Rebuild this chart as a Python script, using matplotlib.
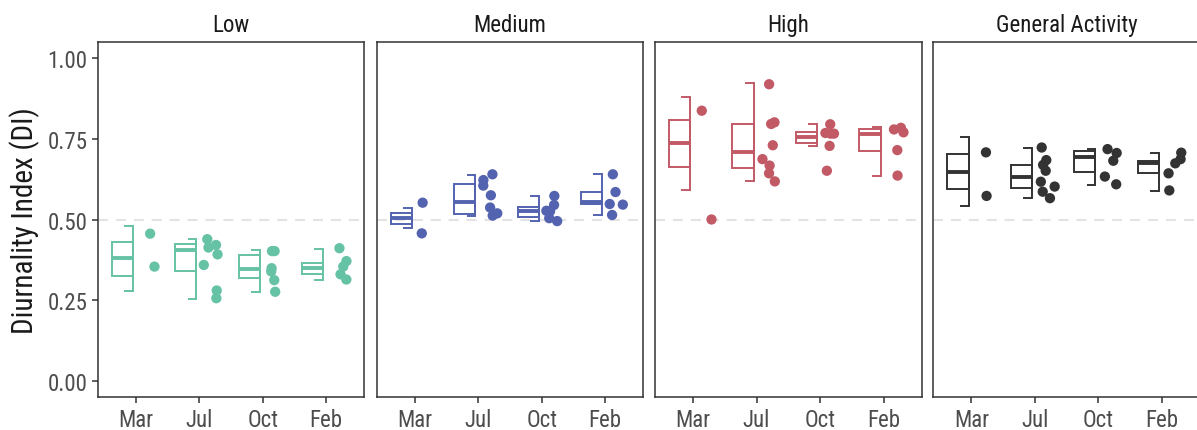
import numpy as np
import matplotlib
matplotlib.use("Agg")
import matplotlib.pyplot as plt
from matplotlib.patches import Rectangle
from matplotlib import font_manager

# ---- data -------------------------------------------------------------
groups = ["Low", "Medium", "High", "General Activity"]
months = ["Mar", "Jul", "Oct", "Feb"]
colors = {"Low": "#66C2A5", "Medium": "#5463B0", "High": "#C25A66",
          "General Activity": "#333333"}

# box statistics per group: one value per month
box_whislo = {
    "Low": [0.278, 0.256, 0.277, 0.312],
    "Medium": [0.474, 0.513, 0.496, 0.515],
    "High": [0.592, 0.620, 0.728, 0.635],
    "General Activity": [0.543, 0.567, 0.608, 0.590],
}
box_q1 = {
    "Low": [0.327, 0.340, 0.319, 0.333],
    "Medium": [0.488, 0.517, 0.509, 0.548],
    "High": [0.665, 0.659, 0.737, 0.714],
    "General Activity": [0.595, 0.598, 0.649, 0.644],
}
box_med = {
    "Low": [0.383, 0.405, 0.349, 0.352],
    "Medium": [0.505, 0.556, 0.528, 0.556],
    "High": [0.737, 0.709, 0.756, 0.765],
    "General Activity": [0.649, 0.634, 0.694, 0.675],
}
box_q3 = {
    "Low": [0.430, 0.424, 0.391, 0.367],
    "Medium": [0.522, 0.610, 0.541, 0.587],
    "High": [0.808, 0.798, 0.771, 0.780],
    "General Activity": [0.703, 0.670, 0.714, 0.682],
}
box_whishi = {
    "Low": [0.481, 0.441, 0.406, 0.410],
    "Medium": [0.536, 0.639, 0.574, 0.642],
    "High": [0.879, 0.923, 0.796, 0.787],
    "General Activity": [0.758, 0.724, 0.719, 0.708],
}

# individual DI values per group and month
low_points = [
    [0.457, 0.355],
    [0.422, 0.440, 0.414, 0.393, 0.360, 0.281, 0.257],
    [0.403, 0.403, 0.350, 0.340, 0.313, 0.277],
    [0.412, 0.372, 0.355, 0.331, 0.315],
]
medium_points = [
    [0.553, 0.458],
    [0.641, 0.623, 0.606, 0.576, 0.538, 0.520, 0.513],
    [0.574, 0.546, 0.527, 0.528, 0.505, 0.496],
    [0.641, 0.586, 0.549, 0.547, 0.515],
]
high_points = [
    [0.838, 0.501],
    [0.920, 0.802, 0.797, 0.731, 0.688, 0.668, 0.644, 0.619],
    [0.796, 0.767, 0.769, 0.767, 0.729, 0.652],
    [0.785, 0.780, 0.771, 0.716, 0.637],
]
general_points = [
    [0.709, 0.574],
    [0.724, 0.685, 0.670, 0.652, 0.618, 0.603, 0.587, 0.567],
    [0.719, 0.707, 0.683, 0.634, 0.610],
    [0.708, 0.688, 0.675, 0.644, 0.591],
]
points = {"Low": low_points, "Medium": medium_points,
          "High": high_points, "General Activity": general_points}

y_ticks = [0.00, 0.25, 0.50, 0.75, 1.00]
reference_level = 0.5

# ---- fonts ------------------------------------------------------------
available = {f.name for f in font_manager.fontManager.ttflist}
family = [f for f in ["Roboto Condensed", "Roboto", "DejaVu Sans"] if f in available]
plt.rcParams["font.family"] = family

text_dark = "#1A1A1A"
tick_grey = "#4D4D4D"
frame_col = "#333333"

W, H = 1197, 431
fig = plt.figure(figsize=(W / 100, H / 100), dpi=100)

panel_left = [97.7, 376.7, 655.0, 933.3]
panel_w = 266.6
top_px, bot_px = 43.3, 398.3

rng = np.random.default_rng(7)

for gi, g in enumerate(groups):
    l = panel_left[gi] / W
    b = 1 - bot_px / H
    ax = fig.add_axes([l, b, panel_w / W, (bot_px - top_px) / H])
    col = colors[g]
    xs = np.arange(1, len(months) + 1)

    ax.axhline(reference_level, color="#E3E3E3", lw=1.5, ls=(0, (4.8, 3.8)), zorder=0)

    for i, x in enumerate(xs):
        lo, q1, md, q3, hi = (box_whislo[g][i], box_q1[g][i], box_med[g][i],
                              box_q3[g][i], box_whishi[g][i])
        x_right = x - 0.045
        x_left = x - 0.38
        cap_left = x - 0.185
        ax.add_patch(Rectangle((x_left, q1), x_right - x_left, q3 - q1,
                               fill=False, edgecolor=col, lw=1.4, zorder=2))
        ax.plot([x_left, x_right], [md, md], color=col, lw=2.8,
                solid_capstyle="butt", zorder=3)
        ax.plot([x_right, x_right], [lo, hi], color=col, lw=1.4, zorder=2)
        ax.plot([cap_left, x_right], [hi, hi], color=col, lw=1.4,
                solid_capstyle="butt", zorder=2)
        ax.plot([cap_left, x_right], [lo, lo], color=col, lw=1.4,
                solid_capstyle="butt", zorder=2)

        vals = np.asarray(points[g][i])
        jit = x + rng.uniform(0.07, 0.32, size=len(vals))
        ax.scatter(jit, vals, s=55, color=col, edgecolors="none", zorder=4)

    ax.set_xlim(0.4, 4.6)
    ax.set_ylim(-0.05, 1.05)
    ax.set_xticks(xs)
    ax.set_xticklabels(months)
    ax.set_yticks(y_ticks)
    if gi == 0:
        ax.set_yticklabels([f"{v:.2f}" for v in y_ticks])
        ax.set_ylabel("Diurnality Index (DI)", fontsize=21, color=text_dark,
                      labelpad=5)
    else:
        ax.tick_params(axis="y", left=False, labelleft=False)
    ax.tick_params(axis="both", colors=frame_col, length=4.5, width=1.1,
                   labelsize=16.5, labelcolor=tick_grey, pad=3)
    for sp in ax.spines.values():
        sp.set_color(frame_col)
        sp.set_linewidth(1.1)
    ax.set_title(g, fontsize=16.5, color=text_dark, pad=8)

fig.savefig("out.png", dpi=100)
